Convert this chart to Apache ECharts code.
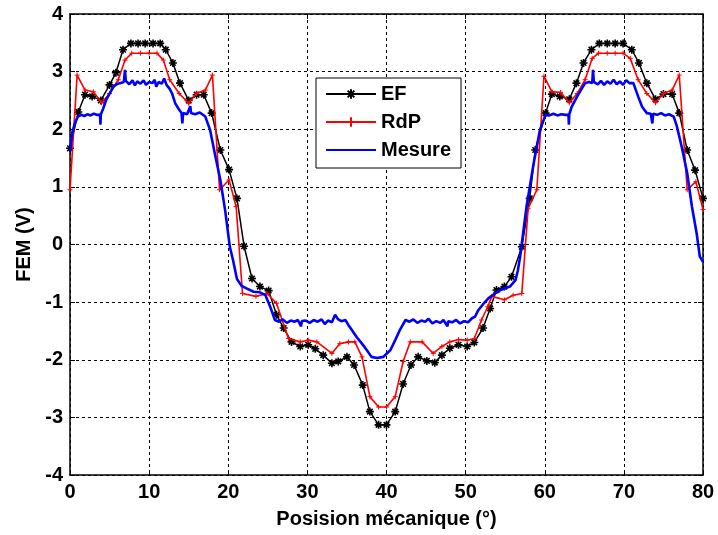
<!DOCTYPE html>
<html>
<head>
<meta charset="utf-8">
<script src="https://cdn.jsdelivr.net/npm/echarts@6/dist/echarts.min.js"></script>
<style>
  html, body { margin: 0; padding: 0; background: #fff; }
  #chart { width: 718px; height: 535px; }
</style>
</head>
<body>
<div id="chart"></div>
<script>
// Finite-element result (EF): positions (°) and back-EMF (V)
const efPos = [0, 1.05, 1.9, 2.8, 3.9, 5, 5.8, 6.7, 7.7, 8.6, 9.5, 10.5, 11.4, 12.1, 13, 13.9, 15, 16, 16.9, 17.9,
  19, 20.1, 21.1, 22, 23, 24, 25.1, 26.1, 27, 28, 29.1, 30.1, 31, 32, 33.1, 33.9, 35, 35.9, 37, 37.9,
  39, 40, 41.1, 42.1, 43.1, 44, 45.1, 46.1, 47, 48, 49.1, 50.2, 51.1, 52.2, 53.1, 53.9, 54.9, 55.8, 57.1, 58.1,
  58.8, 60.1, 60.9, 61.9, 63.1, 64, 64.9, 65.9, 66.9, 67.9, 68.9, 69.9, 71, 71.9, 72.9, 74, 75, 76.1, 77, 78,
  79, 80];
const efVal = [1.67, 2.3, 2.6, 2.57, 2.5, 2.77, 2.98, 3.38, 3.49, 3.49, 3.49, 3.49, 3.49, 3.38, 3.15, 2.8, 2.5, 2.6, 2.6, 2.28,
  1.64, 1.3, 0.8, -0.03, -0.59, -0.73, -0.8, -1.22, -1.45, -1.69, -1.77, -1.74, -1.81, -1.92, -2.06, -2.03, -1.95, -2.09, -2.44, -2.9,
  -3.13, -3.13, -2.9, -2.42, -2.09, -1.95, -2.02, -2.05, -1.92, -1.8, -1.74, -1.77, -1.7, -1.45, -1.11, -0.79, -0.73, -0.56, -0.04, 0.8,
  1.64, 2.28, 2.61, 2.57, 2.52, 2.8, 3.15, 3.38, 3.49, 3.49, 3.49, 3.49, 3.38, 3.15, 2.8, 2.52, 2.61, 2.61, 2.28, 1.64,
  1.29, 0.8];

// Reluctance network model (RdP)
const rdpPos = [0, 0.9, 1.9, 2.95, 4, 5, 6.1, 6.95, 7.8, 8.9, 10, 11, 11.8, 12.6, 13.8, 15, 16, 17.1, 18, 18.9,
  20.1, 21, 21.8, 23.5, 24.9, 26.1, 27.6, 29.1, 30.1, 31.2, 33.1, 34.1, 35.2, 36, 36.9, 37.9, 39, 40, 41.1, 42.1,
  43, 44.5, 45.9, 47, 48, 49.1, 50.2, 51.1, 52, 52.8, 53.3, 54.9, 56, 57.1, 57.9, 59, 59.9, 60.9, 62, 63.1,
  64.1, 65.1, 66, 66.8, 67.9, 68.9, 69.9, 70.8, 71.8, 72.9, 74, 75, 76.1, 77, 78, 79.1, 80];
const rdpVal = [0.95, 2.94, 2.68, 2.65, 2.46, 2.62, 2.86, 3.2, 3.32, 3.32, 3.32, 3.32, 3.2, 2.86, 2.62, 2.45, 2.62, 2.68, 2.94, 0.95,
  1.12, 0.66, -0.85, -0.9, -0.85, -1.02, -1.63, -1.69, -1.66, -1.69, -1.89, -1.72, -1.69, -1.69, -1.95, -2.64, -2.82, -2.82, -2.64, -2.03,
  -1.69, -1.69, -1.89, -1.77, -1.69, -1.65, -1.66, -1.63, -1.31, -1.08, -0.9, -0.96, -0.88, -0.85, 0.62, 0.95, 2.92, 2.65, 2.64, 2.46,
  2.62, 2.86, 3.23, 3.32, 3.32, 3.32, 3.32, 3.23, 2.86, 2.62, 2.46, 2.62, 2.68, 2.94, 0.95, 1.09, 0.61];

// Measured back-EMF (Mesure), sampled trace
const mesPos = [0, 0.3, 0.6, 1.0, 1.4, 1.8, 2.2, 2.6, 3.0, 3.4, 3.8, 3.85, 3.9, 4.2, 4.6, 5.0, 5.5, 5.9, 6.3, 6.8,
  6.95, 7.05, 7.5, 7.9, 8.2, 8.5, 8.9, 9.3, 9.6, 10.0, 10.4, 10.7, 10.9, 11.2, 11.6, 11.9, 12.2, 12.6, 12.9, 13.3,
  13.7, 14.1, 14.2, 14.3, 14.8, 15.2, 15.3, 15.8, 16.4, 17.1, 17.7, 18.3, 19.0, 19.6, 20.2, 20.6, 21.1, 21.7, 22.3, 23.2,
  24.0, 24.7, 25.3, 25.9, 26.4, 26.9, 27.4, 27.9, 28.4, 28.8, 29.2, 29.3, 29.8, 30.3, 30.8, 31.3, 31.8, 32.2, 32.6, 33.1,
  33.5, 33.9, 34.3, 34.8, 35.2, 35.6, 36.2, 36.9, 37.5, 38.1, 38.8, 39.6, 40.5, 41.1, 41.7, 42.4, 42.9, 43.4, 43.9, 44.4,
  44.9, 45.3, 45.8, 46.3, 46.8, 47.2, 47.7, 47.8, 48.3, 48.8, 49.3, 49.8, 50.3, 50.8, 51.2, 51.6, 52.3, 52.9, 53.7, 54.4,
  55.0, 55.6, 56.3, 56.6, 56.9, 57.7, 58.6, 59.4, 60.1, 60.6, 61.1, 61.6, 62.1, 62.6, 63.0, 63.05, 63.1, 63.4, 64.1, 64.7,
  65.1, 65.6, 66.0, 66.1, 66.2, 66.7, 67.1, 67.5, 67.9, 68.3, 68.7, 69.1, 69.5, 69.9, 70.3, 70.7, 71.2, 71.8, 72.3, 72.9,
  73.4, 73.6, 73.7, 74.2, 74.7, 75.2, 75.7, 76.3, 76.7, 77.3, 78.0, 78.6, 79.2, 79.6, 80.0];
const mesVal = [1.62, 1.95, 2.1, 2.22, 2.25, 2.23, 2.26, 2.24, 2.27, 2.25, 2.25, 2.08, 2.26, 2.36, 2.52, 2.62, 2.74, 2.78, 2.8, 2.82,
  3.03, 2.84, 2.78, 2.85, 2.76, 2.83, 2.79, 2.85, 2.77, 2.82, 2.8, 2.86, 2.74, 2.82, 2.79, 2.88, 2.77, 2.7, 2.62, 2.45,
  2.36, 2.28, 2.1, 2.28, 2.26, 2.4, 2.28, 2.26, 2.29, 2.22, 1.99, 1.58, 1.12, 0.6, -0.04, -0.27, -0.6, -0.72, -0.76, -0.82,
  -0.83, -0.88, -1.08, -1.31, -1.34, -1.3, -1.36, -1.32, -1.34, -1.31, -1.42, -1.33, -1.32, -1.36, -1.31, -1.34, -1.3, -1.38, -1.32, -1.35,
  -1.22, -1.3, -1.33, -1.31, -1.4, -1.48, -1.6, -1.72, -1.83, -1.95, -1.97, -1.95, -1.83, -1.66, -1.48, -1.31, -1.34, -1.3, -1.36, -1.32,
  -1.34, -1.29, -1.37, -1.33, -1.36, -1.31, -1.42, -1.33, -1.35, -1.31, -1.37, -1.33, -1.35, -1.28, -1.25, -1.14, -1.02, -0.93, -0.85, -0.79,
  -0.76, -0.73, -0.62, -0.45, -0.2, 0.66, 1.41, 1.99, 2.25, 2.24, 2.27, 2.24, 2.26, 2.25, 2.25, 2.08, 2.26, 2.39, 2.57, 2.71,
  2.8, 2.82, 2.8, 3.03, 2.82, 2.78, 2.84, 2.77, 2.83, 2.79, 2.86, 2.78, 2.83, 2.77, 2.85, 2.8, 2.8, 2.57, 2.39, 2.28,
  2.27, 2.1, 2.27, 2.25, 2.28, 2.24, 2.26, 2.22, 2.05, 1.7, 1.24, 0.66, 0.19, -0.21, -0.3];

const seriesNames = ['EF', 'RdP', 'Mesure'];
const xTitle = 'Posision mécanique (°)';
const yTitle = 'FEM (V)';

const zip = (xs, ys) => xs.map((x, i) => [x, ys[i]]);

const FONT = '"Liberation Sans", Arial, sans-serif';
const labelStyle = { color: '#000', fontSize: 20, fontWeight: 'bold', fontFamily: FONT };
const frameLine = { show: true, onZero: false, lineStyle: { color: '#000', width: 1.5 } };
const innerTick = { show: true, inside: true, length: 5, lineStyle: { color: '#000', width: 1 } };
const gridDash = { show: true, lineStyle: { color: '#000', width: 1, type: [3, 3] } };

const asterisk = 'path://M0,5L10,5M5,0L5,10M1.5,1.5L8.5,8.5M8.5,1.5L1.5,8.5';
const plus = 'path://M0,5L10,5M5,0L5,10';

const chart = echarts.init(document.getElementById('chart'), null, { renderer: 'canvas' });
chart.setOption({
  animation: false,
  backgroundColor: '#fff',
  textStyle: { fontFamily: FONT },
  grid: { left: 70, right: 15, top: 14, bottom: 60 },
  legend: {
    data: [
      { name: seriesNames[0] },
      { name: seriesNames[1] },
      { name: seriesNames[2], itemStyle: { opacity: 0 } }
    ],
    orient: 'vertical',
    left: 316,
    top: 78,
    itemWidth: 50,
    itemHeight: 12,
    itemGap: 8,
    padding: [6, 10, 8, 9],
    borderColor: '#000',
    borderWidth: 1,
    backgroundColor: '#fff',
    textStyle: labelStyle
  },
  xAxis: [
    {
      type: 'value', min: 0, max: 80, interval: 10, position: 'bottom',
      axisLine: frameLine, axisTick: innerTick,
      axisLabel: Object.assign({ margin: 7 }, labelStyle),
      splitLine: gridDash,
      name: xTitle, nameLocation: 'middle', nameGap: 34,
      nameTextStyle: labelStyle
    },
    {
      type: 'value', min: 0, max: 80, interval: 10, position: 'top',
      axisLine: frameLine, axisTick: innerTick,
      axisLabel: { show: false }, splitLine: { show: false }
    }
  ],
  yAxis: [
    {
      type: 'value', min: -4, max: 4, interval: 1, position: 'left',
      axisLine: frameLine, axisTick: innerTick,
      axisLabel: Object.assign({ margin: 7 }, labelStyle),
      splitLine: gridDash,
      name: yTitle, nameLocation: 'middle', nameGap: 29,
      nameTextStyle: labelStyle
    },
    {
      type: 'value', min: -4, max: 4, interval: 1, position: 'right',
      axisLine: frameLine, axisTick: innerTick,
      axisLabel: { show: false }, splitLine: { show: false }
    }
  ],
  series: [
    {
      name: seriesNames[0], type: 'line', xAxisIndex: 0, yAxisIndex: 0,
      data: zip(efPos, efVal),
      symbol: asterisk, symbolSize: 8, showSymbol: true,
      lineStyle: { color: '#000', width: 1.5 },
      itemStyle: { color: '#000', borderColor: '#000', borderWidth: 1.6 },
      z: 3
    },
    {
      name: seriesNames[1], type: 'line', xAxisIndex: 0, yAxisIndex: 0,
      data: zip(rdpPos, rdpVal),
      symbol: plus, symbolSize: 5, showSymbol: true,
      lineStyle: { color: '#ff0000', width: 1.6 },
      itemStyle: { color: '#ff0000', borderColor: '#ff0000', borderWidth: 1 },
      z: 4
    },
    {
      name: seriesNames[2], type: 'line', xAxisIndex: 0, yAxisIndex: 0,
      data: zip(mesPos, mesVal),
      symbol: 'none', showSymbol: false,
      lineStyle: { color: '#0000ff', width: 2.6 },
      itemStyle: { color: '#0000ff' },
      z: 5
    }
  ]
});
</script>
</body>
</html>
